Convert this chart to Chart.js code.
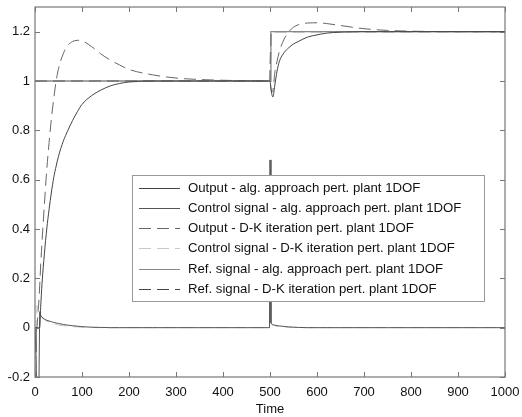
<!DOCTYPE html>
<html>
<head>
<meta charset="utf-8">
<script src="https://cdn.jsdelivr.net/npm/chart.js@4.4.0/dist/chart.umd.min.js"></script>
<style>
  html, body { margin: 0; padding: 0; background: #fff; }
  #wrap { width: 522px; height: 417px; }
</style>
</head>
<body>
<div id="wrap"><canvas id="respChart" width="522" height="417"></canvas></div>
<script>
// time samples (shared by all series)
const times = [0, 2, 4, 6, 8, 10, 12, 15, 20, 25, 30, 35, 40, 45, 50, 60, 70, 80, 90, 100,
  120, 140, 160, 180, 200, 250, 300, 350, 400, 450, 499, 500, 502, 504, 506, 508, 510, 515,
  520, 530, 540, 550, 560, 580, 600, 620, 650, 700, 750, 800, 900, 1000];

const outAlg = [0, 0, 0, 0, 0, 0, 0.08, 0.18, 0.3, 0.4, 0.48, 0.55, 0.61, 0.655, 0.695, 0.755, 0.8, 0.84, 0.875, 0.905,
  0.94, 0.963, 0.98, 0.99, 0.996, 1, 1, 1, 1, 1, 1, 1, 0.97, 0.945, 0.935, 0.95, 0.98, 1.04,
  1.08, 1.115, 1.135, 1.15, 1.16, 1.178, 1.187, 1.194, 1.198, 1.2, 1.2, 1.2, 1.2, 1.2];

const ctrlAlg = [0, -0.1, -0.3, -0.3, -0.3, 0.065, 0.05, 0.042, 0.035, 0.03, 0.027, 0.024, 0.021, 0.019, 0.017, 0.013, 0.01, 0.008, 0.006, 0.004,
  0.002, 0.001, 0, 0, 0, 0, 0, 0, 0, 0, 0, 0.68, 0.02, 0.015, 0.012, 0.011, 0.01, 0.008,
  0.007, 0.005, 0.003, 0.002, 0.001, 0, 0, 0, 0, 0, 0, 0, 0, 0];

const outDK = [0, 0, 0, 0.05, 0.1, 0.17, 0.25, 0.35, 0.5, 0.64, 0.75, 0.85, 0.93, 1.0, 1.05, 1.11, 1.145, 1.16, 1.165, 1.163,
  1.14, 1.11, 1.085, 1.065, 1.047, 1.025, 1.012, 1.006, 1.003, 1.001, 1, 1, 0.97, 0.955, 0.96, 0.99, 1.03, 1.08,
  1.12, 1.17, 1.2, 1.218, 1.228, 1.235, 1.236, 1.233, 1.225, 1.212, 1.205, 1.202, 1.2, 1.2];

const ctrlDK = [0, -0.3, 0.09, 0.08, 0.07, 0.06, 0.05, 0.04, 0.032, 0.026, 0.022, 0.018, 0.015, 0.013, 0.011, 0.008, 0.006, 0.004, 0.003, 0.002,
  0.001, 0, 0, 0, 0, 0, 0, 0, 0, 0, 0, 0.6, 0.015, 0.012, 0.01, 0.009, 0.008, 0.006,
  0.005, 0.003, 0.002, 0.001, 0, 0, 0, 0, 0, 0, 0, 0, 0, 0];

const refAlg = [1, 1, 1, 1, 1, 1, 1, 1, 1, 1, 1, 1, 1, 1, 1, 1, 1, 1, 1, 1,
  1, 1, 1, 1, 1, 1, 1, 1, 1, 1, 1, 1, 1.2, 1.2, 1.2, 1.2, 1.2, 1.2,
  1.2, 1.2, 1.2, 1.2, 1.2, 1.2, 1.2, 1.2, 1.2, 1.2, 1.2, 1.2, 1.2, 1.2];
const refDK = refAlg.slice();

const seriesNames = [
  'Output - alg. approach pert. plant 1DOF',
  'Control signal - alg. approach pert. plant 1DOF',
  'Output - D-K iteration pert. plant 1DOF',
  'Control signal - D-K iteration pert. plant 1DOF',
  'Ref. signal - alg. approach pert. plant 1DOF',
  'Ref. signal - D-K iteration pert. plant 1DOF'
];

const yTicks = [-0.2, 0, 0.2, 0.4, 0.6, 0.8, 1, 1.2];
const xTicks = [0, 100, 200, 300, 400, 500, 600, 700, 800, 900, 1000];

const toPoints = vals => times.map((t, i) => ({x: t, y: vals[i]}));

const styles = [
  {color: '#444', dash: [], smooth: true, width: 1},
  {color: '#555', dash: [], smooth: false, width: 1},
  {color: '#666', dash: [12, 6], smooth: true, width: 1},
  {color: '#c8c8c8', dash: [12, 6], smooth: false, width: 1},
  {color: '#888', dash: [], smooth: false, width: 1.3},
  {color: '#444', dash: [12, 6], smooth: false, width: 1.3}
];
const allVals = [outAlg, ctrlAlg, outDK, ctrlDK, refAlg, refDK];

// box + inward ticks, matlab style
const matlabAxes = {
  id: 'matlabAxes',
  afterDatasetsDraw(chart) {
    const {ctx, chartArea: a, scales: {x, y}} = chart;
    ctx.save();
    ctx.strokeStyle = '#777';
    ctx.lineWidth = 1.2;
    ctx.strokeRect(a.left, a.top, a.right - a.left, a.bottom - a.top);
    ctx.lineWidth = 1;
    ctx.beginPath();
    xTicks.forEach(v => {
      const px = Math.round(x.getPixelForValue(v)) + 0.5;
      ctx.moveTo(px, a.bottom); ctx.lineTo(px, a.bottom - 5);
      ctx.moveTo(px, a.top); ctx.lineTo(px, a.top + 5);
    });
    yTicks.forEach(v => {
      const py = Math.round(y.getPixelForValue(v)) + 0.5;
      ctx.moveTo(a.left, py); ctx.lineTo(a.left + 5, py);
      ctx.moveTo(a.right, py); ctx.lineTo(a.right - 5, py);
    });
    ctx.stroke();
    ctx.restore();
  }
};

// legend box inside the axes
const boxLegend = {
  id: 'boxLegend',
  afterDraw(chart) {
    const {ctx} = chart;
    const left = 132, top = 175, w = 352, h = 126;
    ctx.save();
    ctx.fillStyle = '#fff';
    ctx.fillRect(left, top, w, h);
    ctx.strokeStyle = '#999';
    ctx.lineWidth = 1;
    ctx.strokeRect(left + 0.5, top + 0.5, w, h);
    ctx.font = '13.2px "Liberation Sans", Arial, sans-serif';
    ctx.textBaseline = 'middle';
    chart.data.datasets.forEach((ds, i) => {
      const ry = Math.round(top + 12.5 + i * 20.3) + 0.5;
      ctx.strokeStyle = ds.borderColor;
      ctx.setLineDash(ds.borderDash || []);
      ctx.lineWidth = 1;
      ctx.beginPath();
      ctx.moveTo(left + 7, ry);
      ctx.lineTo(left + 48, ry);
      ctx.stroke();
      ctx.setLineDash([]);
      ctx.fillStyle = '#111';
      ctx.fillText(ds.label, left + 56, ry);
    });
    ctx.restore();
  }
};

const font13 = {family: '"Liberation Sans", Arial, sans-serif', size: 13};

new Chart(document.getElementById('respChart'), {
  type: 'line',
  data: {
    datasets: allVals.map((vals, i) => ({
      label: seriesNames[i],
      data: toPoints(vals),
      borderColor: styles[i].color,
      borderDash: styles[i].dash,
      borderWidth: styles[i].width,
      pointRadius: 0,
      fill: false,
      cubicInterpolationMode: styles[i].smooth ? 'monotone' : 'default',
      tension: 0
    }))
  },
  options: {
    responsive: false,
    animation: false,
    devicePixelRatio: 1,
    layout: {padding: {top: 7, right: 17, left: 0, bottom: 0}},
    plugins: {legend: {display: false}, tooltip: {enabled: false}},
    scales: {
      x: {
        type: 'linear',
        min: 0, max: 1000,
        afterBuildTicks: s => { s.ticks = xTicks.map(v => ({value: v})); },
        afterFit: s => { s.height = 40; s.paddingLeft = 0; s.paddingRight = 0; },
        grid: {display: false, drawTicks: false},
        border: {display: false},
        ticks: {color: '#111', padding: 8, maxRotation: 0, font: font13,
          callback: v => String(v)},
        title: {display: true, text: 'Time', color: '#111', padding: {top: 0, bottom: 0}, font: font13}
      },
      y: {
        min: -0.2, max: 1.3,
        afterBuildTicks: s => { s.ticks = yTicks.map(v => ({value: v})); },
        afterFit: s => { s.width = 35; s.paddingTop = 0; s.paddingBottom = 0; },
        grid: {display: false, drawTicks: false},
        border: {display: false},
        ticks: {color: '#111', padding: 5, font: font13,
          callback: v => String(Math.round(v * 10) / 10)}
      }
    }
  },
  plugins: [matlabAxes, boxLegend]
});
</script>
</body>
</html>
